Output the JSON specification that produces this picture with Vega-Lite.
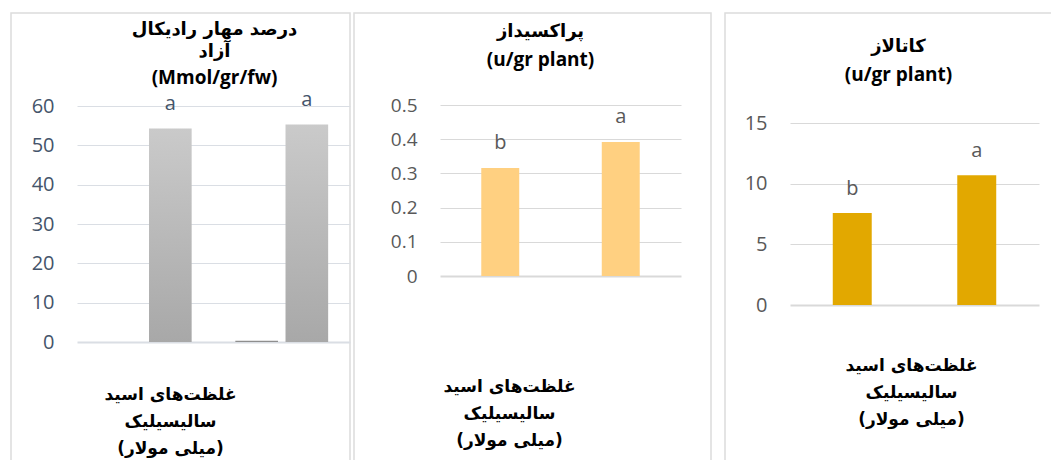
{
  "$schema": "https://vega.github.io/schema/vega-lite/v6.json",
  "padding": {"left": 10, "top": 12, "right": 0, "bottom": 0},
  "background": "white",
  "config": {
    "view": {"stroke": "#dcdcdc", "strokeWidth": 1.5},
    "font": "Open Sans",
    "axisY": {"domain": false, "ticks": false, "tickSize": 0, "grid": true, "gridColor": "#d9d9d9", "labelFont": "Open Sans", "labelFontSize": 20, "labelColor": "#595959", "title": null},
    "axisX": {"domain": false, "ticks": false, "labels": false, "grid": false, "titleFont": "DejaVu Sans", "titleFontSize": 17, "titleFontWeight": "bold", "titleColor": "black", "titleBaseline": "top", "titleAlign": "center", "titleLineHeight": 27}
  },
  "hconcat": [
    {
      "spacing": 2,
      "hconcat": [
        {
          "width": 339,
          "height": 450,
          "title": {"text": ["درصد مهار رادیکال", "آزاد"], "subtitle": "(Mmol/gr/fw)", "font": "DejaVu Sans", "fontSize": 18, "fontWeight": "bold", "color": "black", "lineHeight": 22, "baseline": "top", "subtitleFont": "Open Sans", "subtitleFontSize": 19, "subtitleFontWeight": "bold", "subtitleColor": "black", "subtitlePadding": 8, "offset": -75, "dx": 34, "anchor": "middle", "frame": "group"},
          "data": {"values": [
            {"conc": "c1", "series": "s2", "value": 54.3, "label": "a"},
            {"conc": "c2", "series": "s1", "value": 0.3, "label": ""},
            {"conc": "c2", "series": "s2", "value": 55.3, "label": "a"}
          ]},
          "encoding": {
            "x": {"field": "conc", "type": "nominal", "scale": {"range": [66, 339], "paddingInner": 0.32, "paddingOuter": 0.16},
                  "axis": {"title": ["غلظت‌های اسید", "سالیسیلیک", "(میلی مولار)"], "titleX": 159, "titleY": -77}},
            "xOffset": {"field": "series", "type": "nominal", "scale": {"domain": ["s1", "s2"], "paddingInner": 0.15}},
            "y": {"field": "value", "type": "quantitative", "scale": {"domain": [0, 60], "range": [329, 93], "nice": false},
                  "axis": {"values": [0, 10, 20, 30, 40, 50, 60], "format": "d", "labelPadding": -43, "labelColor": "#44546a", "gridColor": "#dadee4",
                           "gridWidth": {"condition": {"test": "datum.value === 0", "value": 2}, "value": 1}}}
          },
          "layer": [
            {"mark": {"type": "bar"},
             "encoding": {"color": {"condition": {"test": "datum.series === 's1'", "value": "#8e8e8e"},
                                    "value": {"gradient": "linear", "x1": 0, "y1": 0, "x2": 0, "y2": 1, "stops": [{"offset": 0, "color": "#cacaca"}, {"offset": 1, "color": "#a8a8a8"}]}}}},
            {"mark": {"type": "text", "dy": -18, "baseline": "alphabetic", "fontSize": 20, "font": "Open Sans", "color": "#44546a"},
             "encoding": {"text": {"field": "label"}}}
          ]
        },
        {
          "width": 357,
          "height": 450,
          "title": {"text": "پراکسیداز", "subtitle": "(u/gr plant)", "font": "DejaVu Sans", "fontSize": 18, "fontWeight": "bold", "color": "black", "baseline": "top", "subtitleFont": "Open Sans", "subtitleFontSize": 19, "subtitleFontWeight": "bold", "subtitleColor": "black", "subtitlePadding": 10, "offset": -57, "dx": 8, "anchor": "middle", "frame": "group"},
          "data": {"values": [
            {"conc": "c1", "value": 0.316, "label": "b"},
            {"conc": "c2", "value": 0.392, "label": "a"}
          ]},
          "encoding": {
            "x": {"field": "conc", "type": "nominal", "scale": {"range": [86, 327], "paddingInner": 0.685, "paddingOuter": 0.3425},
                  "axis": {"title": ["غلظت‌های اسید", "سالیسیلیک", "(میلی مولار)"], "titleX": 155, "titleY": -85}},
            "y": {"field": "value", "type": "quantitative", "scale": {"domain": [0, 0.5], "range": [263, 92], "nice": false},
                  "axis": {"values": [0, 0.1, 0.2, 0.3, 0.4, 0.5], "format": "~g", "labelFontSize": 19, "labelPadding": -63,
                           "gridWidth": {"condition": {"test": "datum.value === 0", "value": 2}, "value": 1}}}
          },
          "layer": [
            {"mark": {"type": "bar", "color": "#ffd081"}},
            {"mark": {"type": "text", "dy": -19, "baseline": "alphabetic", "fontSize": 20, "font": "Open Sans", "color": "#595959"},
             "encoding": {"text": {"field": "label"}}}
          ]
        }
      ]
    },
    {
      "width": 335,
      "height": 450,
      "title": {"text": "کاتالاز", "subtitle": "(u/gr plant)", "font": "DejaVu Sans", "fontSize": 18, "fontWeight": "bold", "color": "black", "baseline": "top", "subtitleFont": "Open Sans", "subtitleFontSize": 19, "subtitleFontWeight": "bold", "subtitleColor": "black", "subtitlePadding": 10, "offset": -72, "dx": 6, "anchor": "middle", "frame": "group"},
      "data": {"values": [
        {"conc": "c1", "value": 7.58, "label": "b"},
        {"conc": "c2", "value": 10.7, "label": "a"}
      ]},
      "encoding": {
        "x": {"field": "conc", "type": "nominal", "scale": {"range": [65, 314], "paddingInner": 0.687, "paddingOuter": 0.3435},
              "axis": {"title": ["غلظت‌های اسید", "سالیسیلیک", "(میلی مولار)"], "titleX": 186, "titleY": -106}},
        "y": {"field": "value", "type": "quantitative", "scale": {"domain": [0, 15], "range": [292, 110], "nice": false},
              "axis": {"values": [0, 5, 10, 15], "format": "d", "labelPadding": -42,
                       "gridWidth": {"condition": {"test": "datum.value === 0", "value": 2}, "value": 1}}}
      },
      "layer": [
        {"mark": {"type": "bar", "color": "#e2a800"}},
        {"mark": {"type": "text", "dy": -18, "baseline": "alphabetic", "fontSize": 20, "font": "Open Sans", "color": "#595959"},
         "encoding": {"text": {"field": "label"}}}
      ]
    }
  ],
  "spacing": 12
}
